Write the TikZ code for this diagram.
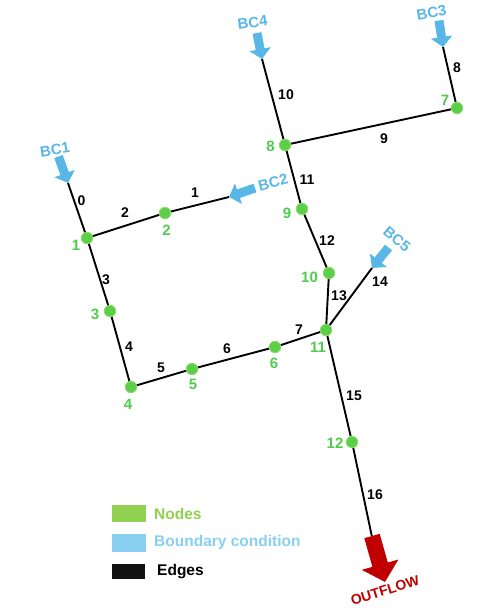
\documentclass[tikz,border=0pt]{standalone}
\usepackage{fontspec}
\setmainfont{Liberation Sans}
\usetikzlibrary{arrows.meta}
\definecolor{dotfill}{HTML}{5CCF49}
\definecolor{dotrim}{HTML}{8EDB6C}
\definecolor{nlab}{HTML}{4FCB4F}
\definecolor{bcblue}{HTML}{58B7E6}
\definecolor{legGreen}{HTML}{92D050}
\definecolor{legBlue}{HTML}{89CFF0}
\definecolor{outred}{HTML}{C00000}
\tikzset{
  edge/.style={line width=1.9pt, black},
  dot/.style={circle, fill=dotfill, draw=dotrim, line width=0.8pt, minimum size=11.5pt, inner sep=0pt},
  elab/.style={font=\fontsize{14}{16}\selectfont\bfseries, text=black, inner sep=0pt},
  nlabel/.style={font=\fontsize{15}{17}\selectfont\bfseries, text=nlab, inner sep=0pt},
  bclab/.style={font=\fontsize{15}{17}\selectfont\bfseries, text=bcblue, inner sep=0pt},
  bcarrow/.style={line width=9pt, bcblue, -{Triangle[width=21pt,length=10pt]}},
  outarrow/.style={line width=16pt, outred, -{Triangle[width=37pt,length=18pt]}},
  legbox/.style={inner sep=0pt},
  legtext/.style={font=\fontsize{15.5}{17}\selectfont\bfseries, anchor=west, inner sep=0pt}
}
\begin{document}
\begin{tikzpicture}[x=1pt,y=-1pt]
\useasboundingbox (0,0) rectangle (490,608);
% node positions
\coordinate (n1) at (87,238);
\coordinate (n2) at (165,213);
\coordinate (n3) at (110,311);
\coordinate (n4) at (131,387);
\coordinate (n5) at (192,369);
\coordinate (n6) at (275,347);
\coordinate (n7) at (457,108);
\coordinate (n8) at (285,145);
\coordinate (n9) at (302,209);
\coordinate (n10) at (329,273);
\coordinate (n11) at (326,330);
\coordinate (n12) at (352,442);
% boundary ends
\coordinate (bc1) at (68,183);
\coordinate (bc2) at (229,197);
\coordinate (bc3) at (443,47);
\coordinate (bc4) at (262,59);
\coordinate (bc5) at (372,268);
\coordinate (out) at (372,537);
% arrow tails
\coordinate (bc1t) at (58.5,156.5);
\coordinate (bc2t) at (255,188);
\coordinate (bc3t) at (439,20.5);
\coordinate (bc4t) at (257,33);
\coordinate (bc5t) at (388.5,247.5);
\coordinate (outt) at (372,536);
\coordinate (outtip) at (385,582);
% edges
\draw[edge] (bc1) -- (n1);
\draw[edge] (n2) -- (bc2);
\draw[edge] (n1) -- (n2);
\draw[edge] (n1) -- (n3);
\draw[edge] (n3) -- (n4);
\draw[edge] (n4) -- (n5);
\draw[edge] (n5) -- (n6);
\draw[edge] (n6) -- (n11);
\draw[edge] (bc3) -- (n7);
\draw[edge] (n7) -- (n8);
\draw[edge] (bc4) -- (n8);
\draw[edge] (n8) -- (n9);
\draw[edge] (n9) -- (n10);
\draw[edge] (n10) -- (n11);
\draw[edge] (n11) -- (bc5);
\draw[edge] (n11) -- (n12);
\draw[edge] (n12) -- (out);
% edge labels
\node[elab] (e0) at (81.5,201) {0};
\node[elab] (e1) at (195,193) {1};
\node[elab] (e2) at (125,213) {2};
\node[elab] (e3) at (106,280) {3};
\node[elab] (e4) at (129,347) {4};
\node[elab] (e5) at (161,368) {5};
\node[elab] (e6) at (227,349) {6};
\node[elab] (e7) at (299,330) {7};
\node[elab] (e8) at (457,68) {8};
\node[elab] (e9) at (384,139) {9};
\node[elab] (e10) at (286,95) {10};
\node[elab] (e11) at (307,180) {11};
\node[elab] (e12) at (327,241) {12};
\node[elab] (e13) at (339,296) {13};
\node[elab] (e14) at (380,282) {14};
\node[elab] (e15) at (354,396) {15};
\node[elab] (e16) at (375,495) {16};
% boundary arrows
\draw[bcarrow] (bc1t) -- (bc1);
\draw[bcarrow] (bc2t) -- (bc2);
\draw[bcarrow] (bc3t) -- (bc3);
\draw[bcarrow] (bc4t) -- (bc4);
\draw[bcarrow] (bc5t) -- (bc5);
\draw[outarrow] (outt) -- (outtip);
% boundary labels
\node[bclab, rotate=10] (lbc1) at (55,150) {BC1};
\node[bclab, rotate=15] (lbc2) at (273,182.5) {BC2};
\node[bclab, rotate=10] (lbc3) at (431.5,12.5) {BC3};
\node[bclab, rotate=8] (lbc4) at (252.5,22.5) {BC4};
\node[bclab, rotate=-40] (lbc5) at (397,239) {BC5};
\node[font=\fontsize{14}{16}\selectfont\bfseries, text=outred, rotate=17, inner sep=0pt] (lout) at (385,590.5) {OUTFLOW};
% node dots
\foreach \i in {1,...,12} { \node[dot] (d\i) at (n\i) {}; }
% node labels
\node[nlabel] (l1) at (76,245) {1};
\node[nlabel] (l2) at (166.5,230) {2};
\node[nlabel] (l3) at (95,314) {3};
\node[nlabel] (l4) at (128,404) {4};
\node[nlabel] (l5) at (193,384) {5};
\node[nlabel] (l6) at (274,363) {6};
\node[nlabel] (l7) at (445,100) {7};
\node[nlabel] (l8) at (270.5,146) {8};
\node[nlabel] (l9) at (287,213) {9};
\node[nlabel] (l10) at (309.5,277) {10};
\node[nlabel] (l11) at (318,347) {11};
\node[nlabel] (l12) at (335,443) {12};
% legend
\node[legbox, fill=legGreen, minimum width=34pt, minimum height=17pt, anchor=north west] (lgn) at (111.5,505) {};
\node[legbox, fill=legBlue, minimum width=34pt, minimum height=18pt, anchor=north west] (lgb) at (111.5,534) {};
\node[legbox, fill=black!93, minimum width=33pt, minimum height=15pt, anchor=north west] (lge) at (111.5,564) {};
\node[legtext, text=legGreen] (tn) at (154,513.5) {Nodes};
\node[legtext, text=legBlue] (tb) at (154,542.5) {Boundary condition};
\node[legtext, text=black] (te) at (157,572) {Edges};
\end{tikzpicture}
\end{document}
